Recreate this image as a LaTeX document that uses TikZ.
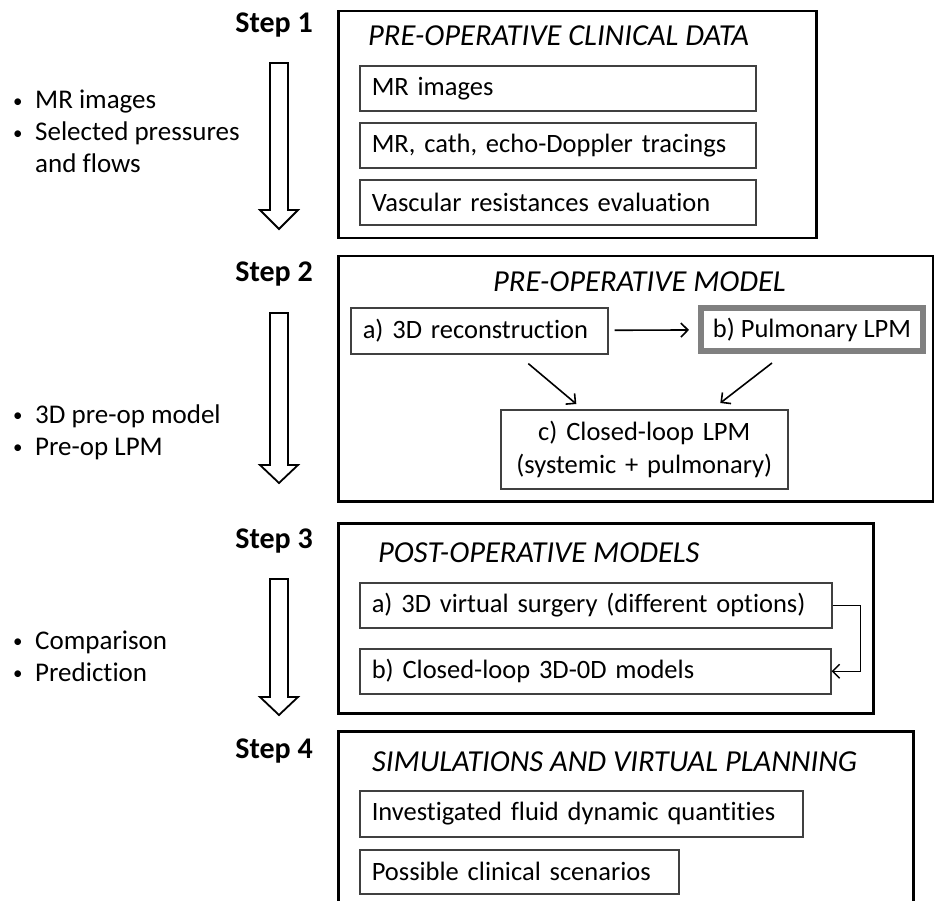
\documentclass[tikz,border=0pt]{standalone}
\usepackage{fontspec}
\setmainfont{Carlito}[Ligatures=NoCommon]
\usetikzlibrary{arrows.meta}

\newcommand{\smallbul}{\raisebox{1.5pt}{\scalebox{0.7}{\textbullet}}}

\tikzset{
    stepbox/.style={draw, line width=2.5pt, anchor=north west, inner sep=0pt},
    inbox/.style={draw=black!75, line width=1.6pt, anchor=north west,
        inner xsep=12pt, inner ysep=0pt, minimum height=45pt, align=left,
        font=\fontsize{26.5}{31}\selectfont},
    steplabel/.style={anchor=base east, inner sep=0pt,
        font=\bfseries\fontsize{30}{34}\selectfont},
    steptitle/.style={anchor=base west, inner sep=0pt,
        font=\itshape\fontsize{30.5}{34}\selectfont},
    sidelist/.style={anchor=base west, inner sep=0pt,
        font=\fontsize{27}{32}\selectfont},
    conn/.style={-{Straight Barb[length=7pt,width=14pt]}, line width=1.6pt},
    hollow/.style={draw, line width=1.8pt, fill=white, line join=miter}
}

\begin{document}
\begin{tikzpicture}[x=1pt, y=-1pt]
    \useasboundingbox (0,0) rectangle (934,901);
    \clip (0,0) rectangle (934,901);

    % step 1
    \node[steplabel] (lab1) at (313,33) {Step 1};
    \node[stepbox, minimum width=478pt, minimum height=227pt] (box1) at (337,10) {};
    \node[steptitle] (t1) at (368,46) {PRE-OPERATIVE CLINICAL DATA};
    \node[inbox, text width=372pt] (mri) at (359,65) {MR images};
    \node[inbox, text width=372pt] (trac) at (359,122) {MR, cath, echo-Doppler tracings};
    \node[inbox, text width=372pt] (resi) at (359,179) {Vascular resistances evaluation};
    \node[sidelist] (out1) at (13,109) {\begin{tabular}[t]{@{}p{22pt}@{}l@{}}
        \smallbul & MR images\\
        \smallbul & Selected pressures\\
                  & and flows
    \end{tabular}};

    % step 2
    \node[steplabel] (lab2) at (313,282) {Step 2};
    \node[stepbox, minimum width=595pt, minimum height=245pt] (box2) at (337,255) {};
    \node[steptitle] (t2) at (493,291) {PRE-OPERATIVE MODEL};
    \node[inbox, text width=233pt, minimum height=46pt] (recon) at (350,307) {a) 3D reconstruction};
    \node[draw=black!50, line width=6pt, minimum width=222pt, minimum height=43pt,
        inner sep=0pt, font=\fontsize{26.5}{31}\selectfont] (pulm) at (812,329.5) {b) Pulmonary LPM};
    \node[inbox, anchor=north west, text width=263pt, minimum height=79pt, align=center,
        font=\fontsize{26.5}{33}\selectfont] (loop) at (500,409) {c) Closed-loop LPM\\(systemic + pulmonary)};
    \draw[conn, shorten <=6pt, shorten >=9pt] (recon) -- (pulm);
    \draw[conn] ([xshift=49pt,yshift=-9pt]recon.south) -- ([xshift=-68pt,yshift=5pt]loop.north);
    \draw[conn] ([xshift=-40pt,yshift=-9pt]pulm.south) -- ([xshift=76pt,yshift=6pt]loop.north);
    \node[sidelist] (out2) at (13,423) {\begin{tabular}[t]{@{}p{22pt}@{}l@{}}
        \smallbul & 3D pre-op model\\
        \smallbul & Pre-op LPM
    \end{tabular}};

    % step 3
    \node[steplabel] (lab3) at (313,548) {Step 3};
    \node[stepbox, minimum width=535pt, minimum height=190pt] (box3) at (337,522) {};
    \node[steptitle] (t3) at (378,562) {POST-OPERATIVE MODELS};
    \node[inbox, text width=448pt] (surg) at (359,582) {a) 3D virtual surgery (different options)};
    \node[inbox, text width=447pt] (cl3d) at (359,648) {b) Closed-loop 3D-0D models};
    \draw[conn, line width=1.4pt] (surg.east) -- ++(28,0) |- (cl3d.east);
    \node[sidelist] (out3) at (13,649) {\begin{tabular}[t]{@{}p{22pt}@{}l@{}}
        \smallbul & Comparison\\
        \smallbul & Prediction
    \end{tabular}};

    % step 4
    \node[steplabel] (lab4) at (313,758) {Step 4};
    \node[stepbox, minimum width=575pt, minimum height=200pt] (box4) at (337,730) {};
    \node[steptitle] (t4) at (372,771) {SIMULATIONS AND VIRTUAL PLANNING};
    \node[inbox, text width=419pt, minimum height=46pt] (quan) at (359,790) {Investigated fluid dynamic quantities};
    \node[inbox, text width=295pt, minimum height=44pt] (scen) at (359,849) {Possible clinical scenarios};

    % big down arrows between the steps
    \foreach \ytop/\ybase/\ytip in {63/210/229, 313/465/483, 579/697/715}
        \draw[hollow] (270,\ytop) -- (270,\ybase) -- (260,\ybase) -- (279,\ytip)
            -- (298,\ybase) -- (288,\ybase) -- (288,\ytop) -- cycle;
\end{tikzpicture}
\end{document}
